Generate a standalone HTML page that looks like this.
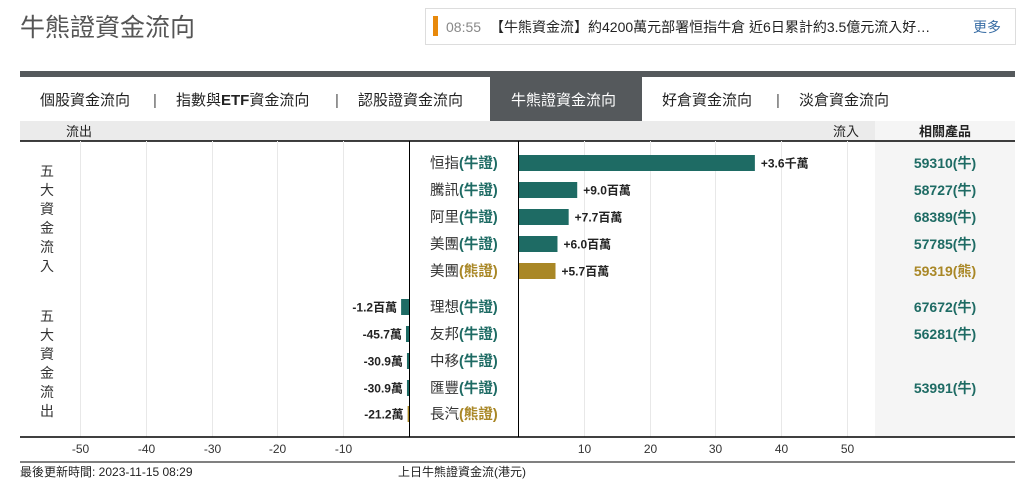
<!DOCTYPE html>
<html><head><meta charset="utf-8">
<style>
body{margin:0;background:#fff;font-family:"Liberation Sans","Noto Sans CJK TC",sans-serif;}
#wrap{position:relative;width:1026px;height:504px;overflow:hidden;}
</style></head>
<body>
<div id="wrap">
<svg id="chart" width="1026" height="504" xmlns="http://www.w3.org/2000/svg" style="font-family:'Liberation Sans','Noto Sans CJK TC',sans-serif">
  <text x="20" y="36" font-size="25" fill="#555">牛熊證資金流向</text>
  <g>
    <rect x="425.5" y="8.5" width="590" height="36" fill="#fff" stroke="#ddd"/>
    <rect x="433" y="16" width="5" height="20" fill="#e8890b"/>
    <text x="446" y="32" font-size="14" fill="#888">08:55</text>
    <text x="490" y="32" font-size="14" fill="#222">【牛熊資金流】約4200萬元部署恒指牛倉 近6日累計約3.5億元流入好…</text>
    <text x="973" y="32" font-size="14" fill="#3a6ea5">更多</text>
  </g>
  <rect x="20" y="71" width="995" height="6" fill="#55595c"/>
  <g font-size="15" fill="#222">
    <text x="40" y="105">個股資金流向</text>
    <text x="153" y="105" fill="#555">|</text>
    <text x="176" y="105">指數與<tspan font-weight="bold">ETF</tspan>資金流向</text>
    <text x="335" y="105" fill="#555">|</text>
    <text x="358" y="105">認股證資金流向</text>
    <rect x="490" y="77" width="152" height="44" fill="#55595c"/>
    <text x="511" y="105" fill="#fff">牛熊證資金流向</text>
    <text x="662" y="105">好倉資金流向</text>
    <text x="776" y="105" fill="#555">|</text>
    <text x="799" y="105">淡倉資金流向</text>
  </g>
  <rect x="20" y="121" width="855" height="20" fill="#ebebeb"/>
  <rect x="875" y="121" width="140" height="316" fill="#f5f5f5"/>
  <text x="66" y="136" font-size="13" fill="#222">流出</text>
  <text x="833" y="136" font-size="13" fill="#222">流入</text>
  <text x="945" y="136" font-size="13" font-weight="bold" fill="#222" text-anchor="middle">相關產品</text>
  <line x1="20" y1="141" x2="1015" y2="141" stroke="#000" stroke-width="1.5"/>
  <g id="grid"></g>
  <g id="bars"></g>
  <line x1="409.5" y1="141" x2="409.5" y2="437" stroke="#000"/>
  <line x1="518.5" y1="141" x2="518.5" y2="437" stroke="#000"/>
  <line x1="20" y1="437" x2="1015" y2="437" stroke="#000" stroke-width="1.5"/>
  <g font-size="14" fill="#333">
    <text x="40" y="176">五</text><text x="40" y="195">大</text><text x="40" y="214">資</text><text x="40" y="233">金</text><text x="40" y="252">流</text><text x="40" y="271">入</text>
    <text x="40" y="321">五</text><text x="40" y="340">大</text><text x="40" y="359">資</text><text x="40" y="378">金</text><text x="40" y="397">流</text><text x="40" y="416">出</text>
  </g>
  <line x1="20" y1="462" x2="1015" y2="462" stroke="#000"/>
  <text x="20" y="476" font-size="12" fill="#222">最後更新時間: 2023-11-15 08:29</text>
  <text x="398" y="476" font-size="12" fill="#222">上日牛熊證資金流(港元)</text>
</svg>
</div>
<script>
const names=["恒指","騰訊","阿里","美團","美團","理想","友邦","中移","匯豐","長汽"];
const types=["牛證","牛證","牛證","牛證","熊證","牛證","牛證","牛證","牛證","熊證"];
const values=[36,9.0,7.7,6.0,5.7,-1.2,-0.457,-0.309,-0.309,-0.212];
const valueLabels=["+3.6千萬","+9.0百萬","+7.7百萬","+6.0百萬","+5.7百萬","-1.2百萬","-45.7萬","-30.9萬","-30.9萬","-21.2萬"];
const products=["59310(牛)","58727(牛)","68389(牛)","57785(牛)","59319(熊)","67672(牛)","56281(牛)","","53991(牛)",""];
const ticks=[-50,-40,-30,-20,-10,10,20,30,40,50];
const rowY=[163,190,217,244,271,307,334,361,388,414];
const NS="http://www.w3.org/2000/svg";
const scale=6.58;
function xPos(v){return v>=0?518+v*scale:409+v*scale;}
function mk(tag,attrs,parent){const e=document.createElementNS(NS,tag);for(const k in attrs)e.setAttribute(k,attrs[k]);parent.appendChild(e);return e;}
const grid=document.getElementById('grid'),bars=document.getElementById('bars');
ticks.forEach(t=>{
  const x=Math.round(xPos(t))+0.5;
  const l=mk('line',{x1:x,y1:141,x2:x,y2:437,stroke:'#e8e8e8'},grid);
  
  
  const tx=mk('text',{x:x,y:453,'font-size':12,fill:'#333','text-anchor':'middle'},grid);
  tx.textContent=t;
  
  
});
values.forEach((v,i)=>{
  const y=rowY[i];
  const col=types[i]==="熊證"?"#a98726":"#1e6b64";
  const x0=v>=0?518:xPos(v);
  const w=Math.abs(v)*scale;
  const r=mk('rect',{x:x0,y:y-8,width:Math.max(w,1.5),height:16,fill:col},bars);
  
  
  const lb=mk('text',{x:v>=0?x0+w+6:x0-4,y:y+4.5,'font-size':12,'font-weight':'bold',fill:'#222','text-anchor':v>=0?'start':'end'},bars);
  lb.textContent=valueLabels[i];
  
  
  const nm=mk('text',{x:430,y:y+5,'font-size':14.5,fill:'#333'},bars);
  
  
  nm.appendChild(document.createTextNode(names[i]));
  const ts=mk('tspan',{fill:col,'font-weight':'bold'},nm);ts.textContent="("+types[i]+")";
  if(products[i]){
    const p=mk('text',{x:945,y:y+5,'font-size':14,'font-weight':'bold',fill:col,'text-anchor':'middle'},bars);
    p.textContent=products[i];
    
    
  }
});
</script>
</body></html>
